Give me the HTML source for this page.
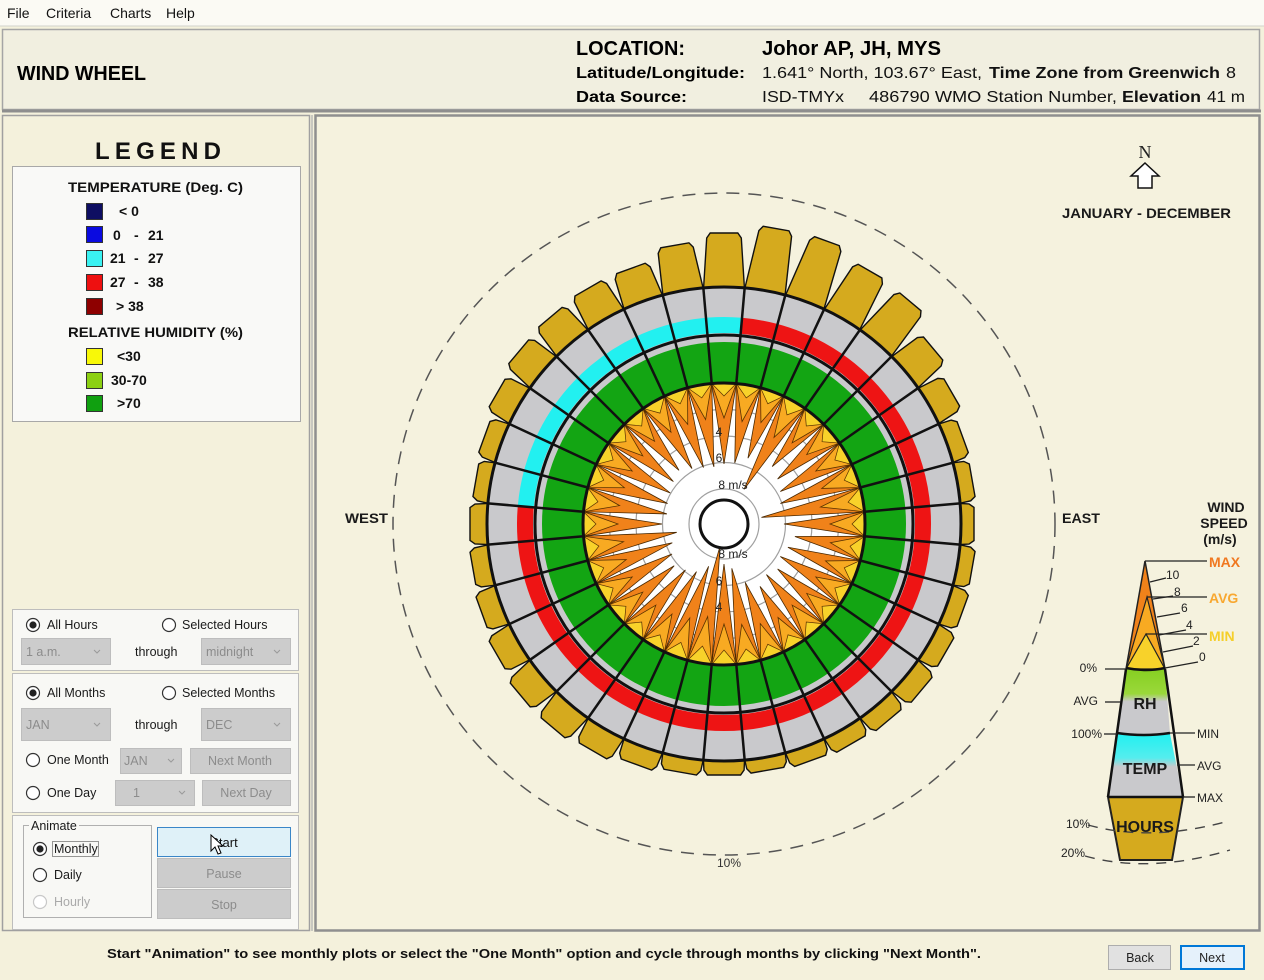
<!DOCTYPE html>
<html><head><meta charset="utf-8"><title>Wind Wheel</title>
<style>html,body{margin:0;padding:0;background:#F4F1DC;}svg{display:block;}</style></head>
<body>
<svg width="1264" height="980" viewBox="0 0 1264 980" xmlns="http://www.w3.org/2000/svg" font-family="'Liberation Sans', Arial, sans-serif">
<defs>
<linearGradient id="gRH" x1="0" y1="0" x2="0" y2="1"><stop offset="0" stop-color="#86CF22"/><stop offset="0.38" stop-color="#9AD83A"/><stop offset="0.5" stop-color="#C9C9CC"/><stop offset="1" stop-color="#C9C9CC"/></linearGradient>
<linearGradient id="gT" x1="0" y1="0" x2="0" y2="1"><stop offset="0" stop-color="#22F0F0"/><stop offset="0.38" stop-color="#55EDEE"/><stop offset="0.52" stop-color="#C9C9CC"/><stop offset="1" stop-color="#C9C9CC"/></linearGradient>
</defs>
<rect width="1264" height="980" fill="#F4F1DC"/>
<!-- menu -->
<rect width="1264" height="26" fill="#FBFAF4"/>
<line x1="0" y1="26" x2="1264" y2="26" stroke="#D2D2CC"/>
<g font-size="14" fill="#111">
<text x="7" y="18">File</text><text x="46" y="18">Criteria</text><text x="110" y="18">Charts</text><text x="166" y="18">Help</text>
</g>
<!-- header -->
<rect x="2.5" y="29.5" width="1257" height="80" fill="#F1EFE0" stroke="#A5A5A5" stroke-width="1.5"/>
<line x1="2" y1="111" x2="1261" y2="111" stroke="#8E8E8E" stroke-width="3"/>
<g fill="#000" font-weight="bold">
<text x="17" y="80" font-size="20" textLength="129" lengthAdjust="spacingAndGlyphs">WIND WHEEL</text>
<text x="576" y="55" font-size="20" textLength="109" lengthAdjust="spacingAndGlyphs">LOCATION:</text>
<text x="762" y="55" font-size="20" textLength="179" lengthAdjust="spacingAndGlyphs">Johor AP, JH, MYS</text>
<text x="576" y="78" font-size="16" textLength="169" lengthAdjust="spacingAndGlyphs">Latitude/Longitude:</text>
<text x="576" y="102" font-size="16" textLength="111" lengthAdjust="spacingAndGlyphs">Data Source:</text>
</g>
<g font-size="16" fill="#111">
<text x="762" y="78" textLength="220" lengthAdjust="spacingAndGlyphs">1.641° North, 103.67° East,</text>
<text x="989" y="78" font-weight="bold" textLength="231" lengthAdjust="spacingAndGlyphs">Time Zone from Greenwich</text>
<text x="1226" y="78" textLength="10" lengthAdjust="spacingAndGlyphs">8</text>
<text x="762" y="102" textLength="82" lengthAdjust="spacingAndGlyphs">ISD-TMYx</text>
<text x="869" y="102" textLength="248" lengthAdjust="spacingAndGlyphs">486790 WMO Station Number,</text>
<text x="1122" y="102" font-weight="bold" textLength="79" lengthAdjust="spacingAndGlyphs">Elevation</text>
<text x="1207" y="102" textLength="38" lengthAdjust="spacingAndGlyphs">41 m</text>
</g>
<!-- left panel -->
<rect x="2.5" y="115.5" width="307" height="815" fill="#F4F1DC" stroke="#A0A0A0" stroke-width="1.5"/>
<line x1="312" y1="115" x2="312" y2="931" stroke="#C8C8C0" stroke-width="2"/>
<text x="95" y="159" font-size="24" font-weight="bold" fill="#111" textLength="126" lengthAdjust="spacing">LEGEND</text>
<rect x="12.5" y="166.5" width="288" height="255" fill="#F9F9F7" stroke="#A8A8A8"/>
<g font-size="14" font-weight="bold" fill="#111">
<text x="68" y="192" textLength="175" lengthAdjust="spacingAndGlyphs">TEMPERATURE (Deg. C)</text>
<text x="68" y="337" textLength="175" lengthAdjust="spacingAndGlyphs">RELATIVE HUMIDITY (%)</text>
<text x="119" y="216">&lt; 0</text>
<text x="113" y="240">0</text><text x="134" y="240">-</text><text x="148" y="240">21</text>
<text x="110" y="263">21</text><text x="134" y="263">-</text><text x="148" y="263">27</text>
<text x="110" y="287">27</text><text x="134" y="287">-</text><text x="148" y="287">38</text>
<text x="116" y="311">&gt; 38</text>
<text x="117" y="361">&lt;30</text>
<text x="111" y="385">30-70</text>
<text x="117" y="408">&gt;70</text>
</g>
<g stroke="#333" stroke-width="1">
<rect x="86.5" y="203.5" width="16" height="16" fill="#0E0E62"/>
<rect x="86.5" y="226.5" width="16" height="16" fill="#0A0AE0"/>
<rect x="86.5" y="250.5" width="16" height="16" fill="#3AF2F2"/>
<rect x="86.5" y="274.5" width="16" height="16" fill="#EE1010"/>
<rect x="86.5" y="298.5" width="16" height="16" fill="#8E0000"/>
<rect x="86.5" y="348.5" width="16" height="16" fill="#F8F808"/>
<rect x="86.5" y="372.5" width="16" height="16" fill="#8CD012"/>
<rect x="86.5" y="395.5" width="16" height="16" fill="#10A010"/>
</g>
<!-- controls -->
<g fill="#F8F8F5" stroke="#BDBDBD">
<rect x="12.5" y="609.5" width="286" height="61"/>
<rect x="12.5" y="673.5" width="286" height="139"/>
<rect x="12.5" y="815.5" width="286" height="114"/>
</g>
<g fill="#CCCCCC" stroke="#BDBDBD">
<rect x="21.5" y="638.5" width="89" height="26"/>
<rect x="201.5" y="638.5" width="89" height="26"/>
<rect x="21.5" y="708.5" width="89" height="32"/>
<rect x="201.5" y="708.5" width="89" height="32"/>
<rect x="120.5" y="748.5" width="61" height="25"/>
<rect x="190.5" y="748.5" width="100" height="25"/>
<rect x="115.5" y="780.5" width="79" height="25"/>
<rect x="202.5" y="780.5" width="88" height="25"/>
<rect x="157.5" y="858.5" width="133" height="29"/>
<rect x="157.5" y="889.5" width="133" height="29"/>
</g>
<g fill="none" stroke="#9A9A9A" stroke-width="1">
<polyline points="94,650 97,653 100,650"/><polyline points="274,650 277,653 280,650"/>
<polyline points="94,723 97,726 100,723"/><polyline points="274,723 277,726 280,723"/>
<polyline points="168,759 171,762 174,759"/><polyline points="179,791 182,794 185,791"/>
</g>
<g font-size="12.5" fill="#8C8C8C">
<text x="26" y="656">1 a.m.</text><text x="206" y="656">midnight</text>
<text x="26" y="729">JAN</text><text x="206" y="729">DEC</text>
<text x="124" y="765">JAN</text><text x="240" y="765" text-anchor="middle">Next Month</text>
<text x="133" y="797">1</text><text x="246" y="797" text-anchor="middle">Next Day</text>
<text x="224" y="878" text-anchor="middle">Pause</text><text x="224" y="909" text-anchor="middle">Stop</text>
<text x="54" y="906" fill="#AAAAAA">Hourly</text>
</g>
<g font-size="12.5" fill="#1A1A1A">
<text x="47" y="629">All Hours</text><text x="182" y="629">Selected Hours</text>
<text x="135" y="656">through</text>
<text x="47" y="697">All Months</text><text x="182" y="697">Selected Months</text>
<text x="135" y="729">through</text>
<text x="47" y="764">One Month</text>
<text x="47" y="797">One Day</text>
<text x="54" y="853">Monthly</text>
<text x="54" y="879">Daily</text>
</g>
<rect x="23.5" y="825.5" width="128" height="92" fill="none" stroke="#B0B0B0"/>
<rect x="29" y="818" width="50" height="14" fill="#F8F8F5"/>
<text x="31" y="830" font-size="12.5" fill="#1A1A1A">Animate</text>
<rect x="52.5" y="841.5" width="46" height="15" fill="none" stroke="#333" stroke-dasharray="1 1"/>
<g fill="#FFF" stroke="#333" stroke-width="1.2">
<circle cx="33" cy="625" r="6.5"/><circle cx="169" cy="625" r="6.5"/>
<circle cx="33" cy="693" r="6.5"/><circle cx="169" cy="693" r="6.5"/>
<circle cx="33" cy="760" r="6.5"/><circle cx="33" cy="793" r="6.5"/>
<circle cx="40" cy="849" r="6.5"/><circle cx="40" cy="875" r="6.5"/>
<circle cx="40" cy="902" r="6.5" stroke="#C8C8C8"/>
</g>
<g fill="#222"><circle cx="33" cy="625" r="3.6"/><circle cx="33" cy="693" r="3.6"/><circle cx="40" cy="849" r="3.6"/></g>
<rect x="157.5" y="827.5" width="133" height="29" fill="#DFF1F8" stroke="#3A86C8"/>
<text x="224" y="847" font-size="13" text-anchor="middle" fill="#111">Start</text>
<polygon points="211,835 211,851 215,847 218,854 221,853 218,846 223,846" fill="#FFF" stroke="#000" stroke-width="1"/>
<!-- wheel panel -->
<rect x="315.5" y="115.5" width="944" height="815" fill="#F5F2DE" stroke="#8F8F8F" stroke-width="2.5"/>
<!-- compass -->
<text x="1145" y="158" font-size="18" text-anchor="middle" font-family="'Liberation Serif', serif" fill="#222">N</text>
<polygon points="1145,163 1159,176 1152,176 1152,188 1138,188 1138,176 1131,176" fill="#FFF" stroke="#111" stroke-width="1.5"/>
<g font-size="14" font-weight="bold" fill="#1A1A1A">
<text x="1062" y="218" textLength="169" lengthAdjust="spacingAndGlyphs">JANUARY - DECEMBER</text>
<text x="345" y="523" textLength="43" lengthAdjust="spacingAndGlyphs">WEST</text>
<text x="1062" y="523" textLength="38" lengthAdjust="spacingAndGlyphs">EAST</text>
</g>
<!-- dashed 10% circle -->
<circle cx="724" cy="524" r="331" fill="none" stroke="#555" stroke-width="1.5" stroke-dasharray="13 9"/>
<text x="729" y="867" font-size="12" text-anchor="middle" fill="#333">10%</text>
<!-- hours bars -->
<g fill="#D5AA1E" stroke="#111" stroke-width="1.4">
<polygon transform="rotate(0 724 524)" points="703.2,294 744.8,294 741.3,238 737.8,233 710.2,233 706.7,238"/>
<polygon transform="rotate(10 724 524)" points="703.2,294 744.8,294 740.6,229 737.1,224 710.9,224 707.4,229"/>
<polygon transform="rotate(20 724 524)" points="703.2,294 744.8,294 740.6,228 737.1,223 710.9,223 707.4,228"/>
<polygon transform="rotate(30 724 524)" points="703.2,294 744.8,294 741.2,237 737.7,232 710.3,232 706.8,237"/>
<polygon transform="rotate(40 724 524)" points="703.2,294 744.8,294 741.3,239 737.8,234 710.2,234 706.7,239"/>
<polygon transform="rotate(50 724 524)" points="703.2,294 744.8,294 742.5,256 739,251 709,251 705.5,256"/>
<polygon transform="rotate(60 724 524)" points="703.2,294 744.8,294 743.2,266 739.7,261 708.3,261 704.8,266"/>
<polygon transform="rotate(70 724 524)" points="703.2,294 744.8,294 743.9,275 740.4,270 707.6,270 704.1,275"/>
<polygon transform="rotate(80 724 524)" points="703.2,294 744.8,294 744,277 740.5,272 707.5,272 704,277"/>
<polygon transform="rotate(90 724 524)" points="703.2,294 744.8,294 744.1,279 740.6,274 707.4,274 703.9,279"/>
<polygon transform="rotate(100 724 524)" points="703.2,294 744.8,294 744,277 740.5,272 707.5,272 704,277"/>
<polygon transform="rotate(110 724 524)" points="703.2,294 744.8,294 743.9,275 740.4,270 707.6,270 704.1,275"/>
<polygon transform="rotate(120 724 524)" points="703.2,294 744.8,294 743.7,273 740.2,268 707.8,268 704.3,273"/>
<polygon transform="rotate(130 724 524)" points="703.2,294 744.8,294 743.6,271 740.1,266 707.9,266 704.4,271"/>
<polygon transform="rotate(140 724 524)" points="703.2,294 744.8,294 743.7,273 740.2,268 707.8,268 704.3,273"/>
<polygon transform="rotate(150 724 524)" points="703.2,294 744.8,294 743.9,275 740.4,270 707.6,270 704.1,275"/>
<polygon transform="rotate(160 724 524)" points="703.2,294 744.8,294 744,277 740.5,272 707.5,272 704,277"/>
<polygon transform="rotate(170 724 524)" points="703.2,294 744.8,294 744.1,279 740.6,274 707.4,274 703.9,279"/>
<polygon transform="rotate(180 724 524)" points="703.2,294 744.8,294 744.1,278 740.6,273 707.4,273 703.9,278"/>
<polygon transform="rotate(190 724 524)" points="703.2,294 744.8,294 744,277 740.5,272 707.5,272 704,277"/>
<polygon transform="rotate(200 724 524)" points="703.2,294 744.8,294 743.7,273 740.2,268 707.8,268 704.3,273"/>
<polygon transform="rotate(210 724 524)" points="703.2,294 744.8,294 743.3,267 739.8,262 708.2,262 704.7,267"/>
<polygon transform="rotate(220 724 524)" points="703.2,294 744.8,294 743,263 739.5,258 708.5,258 705,263"/>
<polygon transform="rotate(230 724 524)" points="703.2,294 744.8,294 743,263 739.5,258 708.5,258 705,263"/>
<polygon transform="rotate(240 724 524)" points="703.2,294 744.8,294 743.3,267 739.8,262 708.2,262 704.7,267"/>
<polygon transform="rotate(250 724 524)" points="703.2,294 744.8,294 743.6,271 740.1,266 707.9,266 704.4,271"/>
<polygon transform="rotate(260 724 524)" points="703.2,294 744.8,294 743.8,274 740.3,269 707.7,269 704.2,274"/>
<polygon transform="rotate(270 724 524)" points="703.2,294 744.8,294 743.9,275 740.4,270 707.6,270 704.1,275"/>
<polygon transform="rotate(280 724 524)" points="703.2,294 744.8,294 744,277 740.5,272 707.5,272 704,277"/>
<polygon transform="rotate(290 724 524)" points="703.2,294 744.8,294 743.8,274 740.3,269 707.7,269 704.2,274"/>
<polygon transform="rotate(300 724 524)" points="703.2,294 744.8,294 743.3,267 739.8,262 708.2,262 704.7,267"/>
<polygon transform="rotate(310 724 524)" points="703.2,294 744.8,294 742.9,261 739.4,256 708.6,256 705.1,261"/>
<polygon transform="rotate(320 724 524)" points="703.2,294 744.8,294 742.7,259 739.2,254 708.8,254 705.3,259"/>
<polygon transform="rotate(330 724 524)" points="703.2,294 744.8,294 742.6,257 739.1,252 708.9,252 705.4,257"/>
<polygon transform="rotate(340 724 524)" points="703.2,294 744.8,294 742.6,257 739.1,252 708.9,252 705.4,257"/>
<polygon transform="rotate(350 724 524)" points="703.2,294 744.8,294 741.8,246 738.3,241 709.7,241 706.2,246"/>
</g>
<!-- rings -->
<circle cx="724" cy="524" r="237" fill="#C9C9CC"/>
<circle cx="724" cy="524" r="161.5" fill="none" stroke="#13A513" stroke-width="41"/>
<path d="M741.34 325.76 A199 199 0 1 1 525.76 506.66" fill="none" stroke="#EE1414" stroke-width="16"/>
<path d="M525.76 506.66 A199 199 0 0 1 741.34 325.76" fill="none" stroke="#22F0F0" stroke-width="16"/>
<circle cx="724" cy="524" r="141" fill="#FFFFFF"/>
<g fill="none" stroke="#A0A0A0" stroke-width="1.2">
<circle cx="724" cy="524" r="35"/><circle cx="724" cy="524" r="61.5"/><circle cx="724" cy="524" r="88"/><circle cx="724" cy="524" r="114.5"/>
</g>
<!-- max spikes -->
<g fill="#F0821A" stroke="#4A2800" stroke-width="0.8">
<polygon transform="rotate(0 724 524)" points="711.7,383.5 724,464 736.3,383.5"/>
<polygon transform="rotate(10 724 524)" points="711.7,383.5 724,462 736.3,383.5"/>
<polygon transform="rotate(20 724 524)" points="711.7,383.5 724,454 736.3,383.5"/>
<polygon transform="rotate(30 724 524)" points="711.7,383.5 724,484 736.3,383.5"/>
<polygon transform="rotate(40 724 524)" points="711.7,383.5 724,449 736.3,383.5"/>
<polygon transform="rotate(50 724 524)" points="711.7,383.5 724,454 736.3,383.5"/>
<polygon transform="rotate(60 724 524)" points="711.7,383.5 724,459 736.3,383.5"/>
<polygon transform="rotate(70 724 524)" points="711.7,383.5 724,464 736.3,383.5"/>
<polygon transform="rotate(80 724 524)" points="711.7,383.5 724,486 736.3,383.5"/>
<polygon transform="rotate(90 724 524)" points="711.7,383.5 724,464 736.3,383.5"/>
<polygon transform="rotate(100 724 524)" points="711.7,383.5 724,452 736.3,383.5"/>
<polygon transform="rotate(110 724 524)" points="711.7,383.5 724,456 736.3,383.5"/>
<polygon transform="rotate(120 724 524)" points="711.7,383.5 724,459 736.3,383.5"/>
<polygon transform="rotate(130 724 524)" points="711.7,383.5 724,454 736.3,383.5"/>
<polygon transform="rotate(140 724 524)" points="711.7,383.5 724,458 736.3,383.5"/>
<polygon transform="rotate(150 724 524)" points="711.7,383.5 724,452 736.3,383.5"/>
<polygon transform="rotate(160 724 524)" points="711.7,383.5 724,462 736.3,383.5"/>
<polygon transform="rotate(170 724 524)" points="711.7,383.5 724,479 736.3,383.5"/>
<polygon transform="rotate(180 724 524)" points="711.7,383.5 724,484 736.3,383.5"/>
<polygon transform="rotate(190 724 524)" points="711.7,383.5 724,502 736.3,383.5"/>
<polygon transform="rotate(200 724 524)" points="711.7,383.5 724,479 736.3,383.5"/>
<polygon transform="rotate(210 724 524)" points="711.7,383.5 724,469 736.3,383.5"/>
<polygon transform="rotate(220 724 524)" points="711.7,383.5 724,464 736.3,383.5"/>
<polygon transform="rotate(230 724 524)" points="711.7,383.5 724,459 736.3,383.5"/>
<polygon transform="rotate(240 724 524)" points="711.7,383.5 724,464 736.3,383.5"/>
<polygon transform="rotate(250 724 524)" points="711.7,383.5 724,469 736.3,383.5"/>
<polygon transform="rotate(260 724 524)" points="711.7,383.5 724,476 736.3,383.5"/>
<polygon transform="rotate(270 724 524)" points="711.7,383.5 724,462 736.3,383.5"/>
<polygon transform="rotate(280 724 524)" points="711.7,383.5 724,466 736.3,383.5"/>
<polygon transform="rotate(290 724 524)" points="711.7,383.5 724,464 736.3,383.5"/>
<polygon transform="rotate(300 724 524)" points="711.7,383.5 724,462 736.3,383.5"/>
<polygon transform="rotate(310 724 524)" points="711.7,383.5 724,458 736.3,383.5"/>
<polygon transform="rotate(320 724 524)" points="711.7,383.5 724,454 736.3,383.5"/>
<polygon transform="rotate(330 724 524)" points="711.7,383.5 724,460 736.3,383.5"/>
<polygon transform="rotate(340 724 524)" points="711.7,383.5 724,464 736.3,383.5"/>
<polygon transform="rotate(350 724 524)" points="711.7,383.5 724,466 736.3,383.5"/>
</g>
<!-- avg spikes (on top) -->
<g fill="#F8AA22" stroke="#5A3200" stroke-width="0.8">
<polygon transform="rotate(0 724 524)" points="711.7,383.5 724,418 736.3,383.5"/>
<polygon transform="rotate(10 724 524)" points="711.7,383.5 724,420 736.3,383.5"/>
<polygon transform="rotate(20 724 524)" points="711.7,383.5 724,416 736.3,383.5"/>
<polygon transform="rotate(30 724 524)" points="711.7,383.5 724,424 736.3,383.5"/>
<polygon transform="rotate(40 724 524)" points="711.7,383.5 724,418 736.3,383.5"/>
<polygon transform="rotate(50 724 524)" points="711.7,383.5 724,416 736.3,383.5"/>
<polygon transform="rotate(60 724 524)" points="711.7,383.5 724,418 736.3,383.5"/>
<polygon transform="rotate(70 724 524)" points="711.7,383.5 724,420 736.3,383.5"/>
<polygon transform="rotate(80 724 524)" points="711.7,383.5 724,426 736.3,383.5"/>
<polygon transform="rotate(90 724 524)" points="711.7,383.5 724,418 736.3,383.5"/>
<polygon transform="rotate(100 724 524)" points="711.7,383.5 724,416 736.3,383.5"/>
<polygon transform="rotate(110 724 524)" points="711.7,383.5 724,416 736.3,383.5"/>
<polygon transform="rotate(120 724 524)" points="711.7,383.5 724,418 736.3,383.5"/>
<polygon transform="rotate(130 724 524)" points="711.7,383.5 724,416 736.3,383.5"/>
<polygon transform="rotate(140 724 524)" points="711.7,383.5 724,418 736.3,383.5"/>
<polygon transform="rotate(150 724 524)" points="711.7,383.5 724,416 736.3,383.5"/>
<polygon transform="rotate(160 724 524)" points="711.7,383.5 724,418 736.3,383.5"/>
<polygon transform="rotate(170 724 524)" points="711.7,383.5 724,422 736.3,383.5"/>
<polygon transform="rotate(180 724 524)" points="711.7,383.5 724,424 736.3,383.5"/>
<polygon transform="rotate(190 724 524)" points="711.7,383.5 724,430 736.3,383.5"/>
<polygon transform="rotate(200 724 524)" points="711.7,383.5 724,424 736.3,383.5"/>
<polygon transform="rotate(210 724 524)" points="711.7,383.5 724,420 736.3,383.5"/>
<polygon transform="rotate(220 724 524)" points="711.7,383.5 724,418 736.3,383.5"/>
<polygon transform="rotate(230 724 524)" points="711.7,383.5 724,418 736.3,383.5"/>
<polygon transform="rotate(240 724 524)" points="711.7,383.5 724,418 736.3,383.5"/>
<polygon transform="rotate(250 724 524)" points="711.7,383.5 724,420 736.3,383.5"/>
<polygon transform="rotate(260 724 524)" points="711.7,383.5 724,422 736.3,383.5"/>
<polygon transform="rotate(270 724 524)" points="711.7,383.5 724,418 736.3,383.5"/>
<polygon transform="rotate(280 724 524)" points="711.7,383.5 724,418 736.3,383.5"/>
<polygon transform="rotate(290 724 524)" points="711.7,383.5 724,418 736.3,383.5"/>
<polygon transform="rotate(300 724 524)" points="711.7,383.5 724,418 736.3,383.5"/>
<polygon transform="rotate(310 724 524)" points="711.7,383.5 724,418 736.3,383.5"/>
<polygon transform="rotate(320 724 524)" points="711.7,383.5 724,416 736.3,383.5"/>
<polygon transform="rotate(330 724 524)" points="711.7,383.5 724,418 736.3,383.5"/>
<polygon transform="rotate(340 724 524)" points="711.7,383.5 724,418 736.3,383.5"/>
<polygon transform="rotate(350 724 524)" points="711.7,383.5 724,418 736.3,383.5"/>
</g>
<!-- min spikes (on top) -->
<g fill="#F8D22A" stroke="#5A3200" stroke-width="0.7">
<polygon transform="rotate(0 724 524)" points="711.7,383.5 724,396 736.3,383.5"/>
<polygon transform="rotate(10 724 524)" points="711.7,383.5 724,396 736.3,383.5"/>
<polygon transform="rotate(20 724 524)" points="711.7,383.5 724,396 736.3,383.5"/>
<polygon transform="rotate(30 724 524)" points="711.7,383.5 724,398 736.3,383.5"/>
<polygon transform="rotate(40 724 524)" points="711.7,383.5 724,396 736.3,383.5"/>
<polygon transform="rotate(50 724 524)" points="711.7,383.5 724,396 736.3,383.5"/>
<polygon transform="rotate(60 724 524)" points="711.7,383.5 724,396 736.3,383.5"/>
<polygon transform="rotate(70 724 524)" points="711.7,383.5 724,396 736.3,383.5"/>
<polygon transform="rotate(80 724 524)" points="711.7,383.5 724,398 736.3,383.5"/>
<polygon transform="rotate(90 724 524)" points="711.7,383.5 724,396 736.3,383.5"/>
<polygon transform="rotate(100 724 524)" points="711.7,383.5 724,396 736.3,383.5"/>
<polygon transform="rotate(110 724 524)" points="711.7,383.5 724,396 736.3,383.5"/>
<polygon transform="rotate(120 724 524)" points="711.7,383.5 724,396 736.3,383.5"/>
<polygon transform="rotate(130 724 524)" points="711.7,383.5 724,396 736.3,383.5"/>
<polygon transform="rotate(140 724 524)" points="711.7,383.5 724,396 736.3,383.5"/>
<polygon transform="rotate(150 724 524)" points="711.7,383.5 724,396 736.3,383.5"/>
<polygon transform="rotate(160 724 524)" points="711.7,383.5 724,396 736.3,383.5"/>
<polygon transform="rotate(170 724 524)" points="711.7,383.5 724,397 736.3,383.5"/>
<polygon transform="rotate(180 724 524)" points="711.7,383.5 724,398 736.3,383.5"/>
<polygon transform="rotate(190 724 524)" points="711.7,383.5 724,400 736.3,383.5"/>
<polygon transform="rotate(200 724 524)" points="711.7,383.5 724,398 736.3,383.5"/>
<polygon transform="rotate(210 724 524)" points="711.7,383.5 724,396 736.3,383.5"/>
<polygon transform="rotate(220 724 524)" points="711.7,383.5 724,396 736.3,383.5"/>
<polygon transform="rotate(230 724 524)" points="711.7,383.5 724,396 736.3,383.5"/>
<polygon transform="rotate(240 724 524)" points="711.7,383.5 724,396 736.3,383.5"/>
<polygon transform="rotate(250 724 524)" points="711.7,383.5 724,396 736.3,383.5"/>
<polygon transform="rotate(260 724 524)" points="711.7,383.5 724,397 736.3,383.5"/>
<polygon transform="rotate(270 724 524)" points="711.7,383.5 724,396 736.3,383.5"/>
<polygon transform="rotate(280 724 524)" points="711.7,383.5 724,396 736.3,383.5"/>
<polygon transform="rotate(290 724 524)" points="711.7,383.5 724,396 736.3,383.5"/>
<polygon transform="rotate(300 724 524)" points="711.7,383.5 724,396 736.3,383.5"/>
<polygon transform="rotate(310 724 524)" points="711.7,383.5 724,396 736.3,383.5"/>
<polygon transform="rotate(320 724 524)" points="711.7,383.5 724,396 736.3,383.5"/>
<polygon transform="rotate(330 724 524)" points="711.7,383.5 724,396 736.3,383.5"/>
<polygon transform="rotate(340 724 524)" points="711.7,383.5 724,396 736.3,383.5"/>
<polygon transform="rotate(350 724 524)" points="711.7,383.5 724,396 736.3,383.5"/>
</g>
<!-- black ring circles and spokes -->
<g fill="none" stroke="#111" stroke-width="3">
<circle cx="724" cy="524" r="141"/><circle cx="724" cy="524" r="189"/><circle cx="724" cy="524" r="237"/>
</g>
<g stroke="#111" stroke-width="2.5">
<line x1="724" y1="383" x2="724" y2="287" transform="rotate(5 724 524)"/>
<line x1="724" y1="383" x2="724" y2="287" transform="rotate(15 724 524)"/>
<line x1="724" y1="383" x2="724" y2="287" transform="rotate(25 724 524)"/>
<line x1="724" y1="383" x2="724" y2="287" transform="rotate(35 724 524)"/>
<line x1="724" y1="383" x2="724" y2="287" transform="rotate(45 724 524)"/>
<line x1="724" y1="383" x2="724" y2="287" transform="rotate(55 724 524)"/>
<line x1="724" y1="383" x2="724" y2="287" transform="rotate(65 724 524)"/>
<line x1="724" y1="383" x2="724" y2="287" transform="rotate(75 724 524)"/>
<line x1="724" y1="383" x2="724" y2="287" transform="rotate(85 724 524)"/>
<line x1="724" y1="383" x2="724" y2="287" transform="rotate(95 724 524)"/>
<line x1="724" y1="383" x2="724" y2="287" transform="rotate(105 724 524)"/>
<line x1="724" y1="383" x2="724" y2="287" transform="rotate(115 724 524)"/>
<line x1="724" y1="383" x2="724" y2="287" transform="rotate(125 724 524)"/>
<line x1="724" y1="383" x2="724" y2="287" transform="rotate(135 724 524)"/>
<line x1="724" y1="383" x2="724" y2="287" transform="rotate(145 724 524)"/>
<line x1="724" y1="383" x2="724" y2="287" transform="rotate(155 724 524)"/>
<line x1="724" y1="383" x2="724" y2="287" transform="rotate(165 724 524)"/>
<line x1="724" y1="383" x2="724" y2="287" transform="rotate(175 724 524)"/>
<line x1="724" y1="383" x2="724" y2="287" transform="rotate(185 724 524)"/>
<line x1="724" y1="383" x2="724" y2="287" transform="rotate(195 724 524)"/>
<line x1="724" y1="383" x2="724" y2="287" transform="rotate(205 724 524)"/>
<line x1="724" y1="383" x2="724" y2="287" transform="rotate(215 724 524)"/>
<line x1="724" y1="383" x2="724" y2="287" transform="rotate(225 724 524)"/>
<line x1="724" y1="383" x2="724" y2="287" transform="rotate(235 724 524)"/>
<line x1="724" y1="383" x2="724" y2="287" transform="rotate(245 724 524)"/>
<line x1="724" y1="383" x2="724" y2="287" transform="rotate(255 724 524)"/>
<line x1="724" y1="383" x2="724" y2="287" transform="rotate(265 724 524)"/>
<line x1="724" y1="383" x2="724" y2="287" transform="rotate(275 724 524)"/>
<line x1="724" y1="383" x2="724" y2="287" transform="rotate(285 724 524)"/>
<line x1="724" y1="383" x2="724" y2="287" transform="rotate(295 724 524)"/>
<line x1="724" y1="383" x2="724" y2="287" transform="rotate(305 724 524)"/>
<line x1="724" y1="383" x2="724" y2="287" transform="rotate(315 724 524)"/>
<line x1="724" y1="383" x2="724" y2="287" transform="rotate(325 724 524)"/>
<line x1="724" y1="383" x2="724" y2="287" transform="rotate(335 724 524)"/>
<line x1="724" y1="383" x2="724" y2="287" transform="rotate(345 724 524)"/>
<line x1="724" y1="383" x2="724" y2="287" transform="rotate(355 724 524)"/>
</g>
<circle cx="724" cy="524" r="24" fill="#FFF" stroke="#111" stroke-width="3"/>
<g font-size="12" fill="#222" text-anchor="middle">
<text x="733" y="489">8 m/s</text><text x="719" y="462">6</text><text x="719" y="436">4</text>
<text x="733" y="558">8 m/s</text><text x="719" y="585">6</text><text x="719" y="611">4</text>
</g>
<!-- wind speed legend -->
<g font-size="14" font-weight="bold" fill="#1A1A1A" text-anchor="middle">
<text x="1226" y="512">WIND</text><text x="1224" y="528">SPEED</text><text x="1220" y="544">(m/s)</text>
</g>
<g font-size="14" font-weight="bold">
<text x="1209" y="567" fill="#F07820">MAX</text>
<text x="1209" y="603" fill="#F8A830">AVG</text>
<text x="1209" y="641" fill="#F5CF2A">MIN</text>
</g>
<polygon points="1145,561 1165,669 1126,669" fill="#F0821A" stroke="#222" stroke-width="1.5"/>
<polygon points="1147,597 1165,669 1126,669" fill="#F8AA22" stroke="#222" stroke-width="1.2"/>
<polygon points="1146,634 1165,669 1126,669" fill="#F8D22A" stroke="#222" stroke-width="1.2"/>
<polygon points="1126,669 1165,669 1170,734 1117,734" fill="url(#gRH)"/>
<polygon points="1117,734 1170,734 1183,797 1108,797" fill="url(#gT)"/>
<polygon points="1108,797 1183,797 1172,860 1120,860" fill="#D5AA1E" stroke="#222" stroke-width="2"/>
<g stroke="#111" stroke-width="2.5" fill="none">
<path d="M1126,668 Q1146,672 1165,668"/>
<path d="M1117,733 Q1144,737 1170,733"/>
<path d="M1108,797 L1183,797"/>
<path d="M1126,669 L1108,797 M1165,669 L1183,797"/>
</g>
<g stroke="#222" stroke-width="1.3">
<line x1="1145" y1="561" x2="1207" y2="561"/>
<line x1="1147" y1="597" x2="1207" y2="597"/>
<line x1="1146" y1="634" x2="1207" y2="634"/>
<line x1="1150" y1="582" x2="1166" y2="578"/>
<line x1="1153" y1="599" x2="1173" y2="596"/>
<line x1="1157" y1="617" x2="1180" y2="613"/>
<line x1="1159" y1="635" x2="1186" y2="630"/>
<line x1="1163" y1="652" x2="1193" y2="646"/>
<line x1="1165" y1="668" x2="1198" y2="662"/>
<line x1="1105" y1="669" x2="1126" y2="669"/>
<line x1="1105" y1="702" x2="1121" y2="702"/>
<line x1="1104" y1="734" x2="1117" y2="734"/>
<line x1="1170" y1="733" x2="1195" y2="733"/>
<line x1="1177" y1="765" x2="1195" y2="765"/>
<line x1="1183" y1="797" x2="1195" y2="797"/>
</g>
<g fill="none" stroke="#444" stroke-width="1.4" stroke-dasharray="10 8">
<path d="M1088,825 Q1150,842 1225,822"/>
<path d="M1085,856 Q1150,874 1230,850"/>
</g>
<g font-size="12" fill="#222">
<text x="1166" y="579">10</text><text x="1174" y="596">8</text><text x="1181" y="612">6</text>
<text x="1186" y="629">4</text><text x="1193" y="645">2</text><text x="1199" y="661">0</text>
<text x="1097" y="672" text-anchor="end">0%</text>
<text x="1098" y="705" text-anchor="end">AVG</text>
<text x="1102" y="738" text-anchor="end">100%</text>
<text x="1197" y="738">MIN</text><text x="1197" y="770">AVG</text><text x="1197" y="802">MAX</text>
<text x="1066" y="828">10%</text><text x="1061" y="857">20%</text>
</g>
<g font-size="16" font-weight="bold" fill="#1A1A1A" text-anchor="middle">
<text x="1145" y="709">RH</text><text x="1145" y="774">TEMP</text><text x="1145" y="832">HOURS</text>
</g>
<!-- bottom -->
<text x="107" y="958" font-size="13" font-weight="bold" fill="#111" textLength="874" lengthAdjust="spacingAndGlyphs">Start "Animation" to see monthly plots or select the "One Month" option and cycle through months by clicking "Next Month".</text>
<rect x="1108.5" y="945.5" width="62" height="24" fill="#E1E1E1" stroke="#ADADAD"/>
<text x="1140" y="962" font-size="12.5" text-anchor="middle" fill="#222">Back</text>
<rect x="1181" y="946" width="63" height="23" fill="#E5F1FB" stroke="#0078D7" stroke-width="2"/>
<text x="1212" y="962" font-size="12.5" text-anchor="middle" fill="#222">Next</text>
</svg>
</body></html>
